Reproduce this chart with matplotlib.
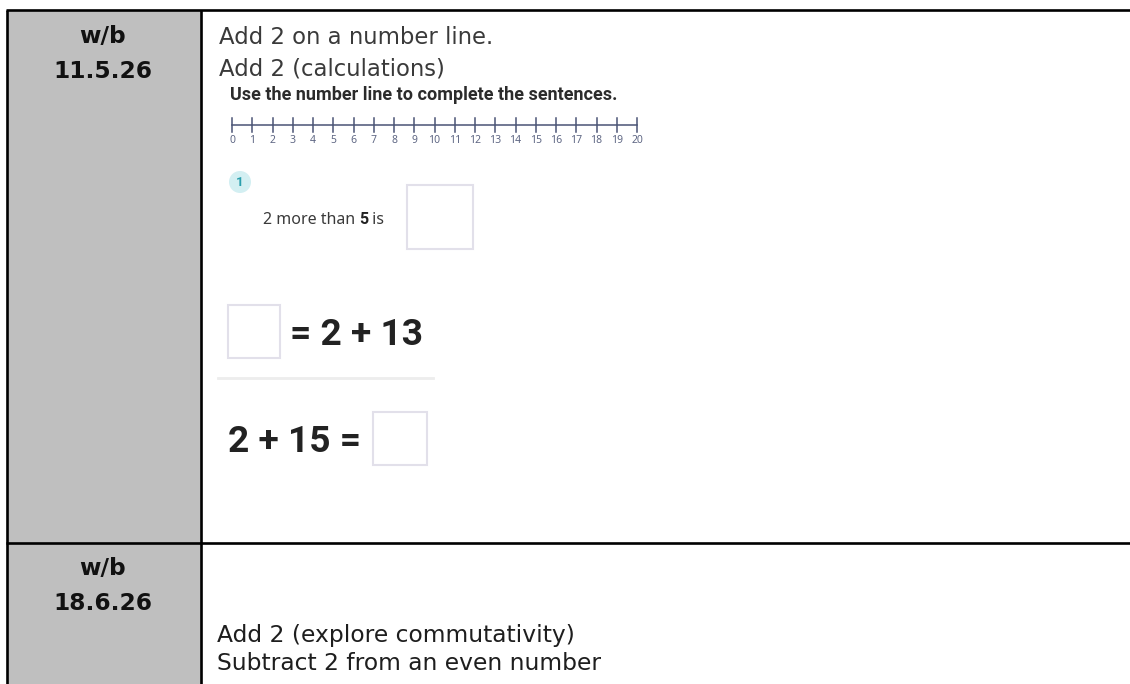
import matplotlib
matplotlib.use("Agg")
import matplotlib.pyplot as plt
from matplotlib.patches import Rectangle, Circle

# ---- content ----
week_labels = [["w/b", "11.5.26"], ["w/b", "18.6.26"]]
row1_titles = ["Add 2 on a number line.", "Add 2 (calculations)"]
instruction = "Use the number line to complete the sentences."
number_line_values = list(range(0, 21))
question_number = "1"
sentence_parts = ["2 more than ", "5", " is"]
equation_1 = "= 2 + 13"
equation_2 = "2 + 15 ="
row2_titles = ["Add 2 (explore commutativity)", "Subtract 2 from an even number"]

W, H = 1130, 684
fig = plt.figure(figsize=(W / 100, H / 100), dpi=100)
ax = fig.add_axes([0, 0, 1, 1])
ax.set_xlim(0, W)
ax.set_ylim(H, 0)
ax.axis("off")
fig.canvas.draw()
renderer = fig.canvas.get_renderer()
inv = ax.transData.inverted()


def width_of(t):
    bb = t.get_window_extent(renderer)
    return inv.transform((bb.x1, 0))[0] - inv.transform((bb.x0, 0))[0]


def fit(t, target):
    """scale a text's font size so that its drawn width matches target (pixels)"""
    for _ in range(3):
        t.set_fontsize(t.get_fontsize() * target / width_of(t))
    return t.get_fontsize()


WS = ["Noto Sans", "DejaVu Sans"]      # worksheet regular font
WSB = ["Roboto", "DejaVu Sans"]        # worksheet bold font

# ---- table frame ----
left, col, top, mid = 7, 201, 10, 543
ax.add_patch(Rectangle((left, top), col - left, H - top, facecolor="#bfbfbf", edgecolor="none", zorder=0))
lw = 1.9
ax.plot([left - 1, W], [top, top], color="black", lw=lw, solid_capstyle="butt")
ax.plot([left - 1, W], [mid, mid], color="black", lw=lw, solid_capstyle="butt")
ax.plot([left, left], [top, H], color="black", lw=lw, solid_capstyle="butt")
ax.plot([col, col], [top, H], color="black", lw=lw, solid_capstyle="butt")

# ---- left column ----
lab_font = dict(family="DejaVu Sans", fontweight="bold", color="#111111", ha="center", va="baseline")
d = ax.text(103, 610, week_labels[1][1], fontsize=16, **lab_font)
size_lab = fit(d, 99)
ax.text(103, 575, week_labels[1][0], fontsize=size_lab, **lab_font)
ax.text(103, 43, week_labels[0][0], fontsize=size_lab, **lab_font)
ax.text(103, 78, week_labels[0][1], fontsize=size_lab, **lab_font)

# ---- row 1 ----
title_font = dict(family="DejaVu Sans", color="#3a3a3a", ha="left", va="baseline")
t = ax.text(219, 44, row1_titles[0], fontsize=16, **title_font)
size_title = fit(t, 273)
ax.text(219, 75, row1_titles[1], fontsize=size_title, **title_font)

ins = ax.text(230, 100, instruction, fontsize=11, fontweight="bold", family=WSB,
              color="#2b2b2b", ha="left", va="baseline")
fit(ins, 388)

# number line
x0, x1 = 232, 637
ny = 125
step = (x1 - x0) / (len(number_line_values) - 1)
ax.plot([x0, x1], [ny, ny], color="#4a5475", lw=1.1)
for i, v in enumerate(number_line_values):
    xx = x0 + i * step
    ax.plot([xx, xx], [ny - 7, ny + 7], color="#4a5475", lw=1.1)
    ax.text(xx, 143, str(v), ha="center", va="baseline", fontsize=7.5, family=WS, color="#5f6784")

# question circle
ax.add_patch(Circle((240, 182), 11, facecolor="#d3eff2", edgecolor="none"))
ax.text(240, 182.5, question_number, ha="center", va="center", fontsize=9.5, fontweight="bold",
        family=WSB, color="#2a9fad")

# sentence with bold 5
xs = 263
for j, part in enumerate(sentence_parts):
    bold = j == 1
    tt = ax.text(xs, 224, part, fontsize=11.5, va="baseline", ha="left",
                 family=WSB if bold else WS, fontweight="bold" if bold else "normal",
                 color="#222222" if bold else "#3a3a3a")
    xs += width_of(tt)

box_kw = dict(facecolor="white", edgecolor="#e2e0ea", lw=1.5)
ax.add_patch(Rectangle((407, 185), 66, 64, **box_kw))

# equation 1
ax.add_patch(Rectangle((228, 305), 52, 53, **box_kw))
e1 = ax.text(290, 345, equation_1, ha="left", va="baseline", fontsize=22, fontweight="bold",
             family=WSB, color="#222222")
size_eq = fit(e1, 133)

# separator
ax.plot([218, 433], [378, 378], color="#ededed", lw=2)

# equation 2
ax.text(228, 452, equation_2, ha="left", va="baseline", fontsize=size_eq, fontweight="bold",
        family=WSB, color="#222222")
ax.add_patch(Rectangle((373, 412), 54, 53, **box_kw))

# ---- row 2 ----
bottom_font = dict(family="DejaVu Sans", color="#1e1e1e", ha="left", va="baseline")
ax.text(217, 642, row2_titles[0], fontsize=size_title * 1.03, **bottom_font)
ax.text(217, 670, row2_titles[1], fontsize=size_title * 1.03, **bottom_font)

fig.savefig("out.png", dpi=100, facecolor="white")
